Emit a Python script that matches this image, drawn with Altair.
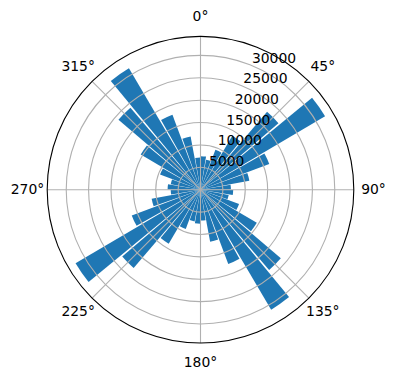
import math
import altair as alt
import pandas as pd

# ---- data ----
directions = list(range(5, 360, 10))  # bar centres, degrees
counts = [7500, 6800, 9500, 14000, 22900, 32300, 16400, 11100, 6800,
          7300, 6400, 9200, 14600, 23600, 31100, 17700, 11800, 6900,
          7600, 7200, 9400, 14000, 23000, 32400, 16400, 11100, 6650,
          7350, 6750, 9650, 15500, 24100, 31500, 17900, 12100, 7200]
ring_values = [5000, 10000, 15000, 20000, 25000, 30000]
ring_labels = ["5000", "10000", "15000", "20000", "25000", "30000"]
angle_ticks = [0, 45, 90, 135, 180, 225, 270, 315]
angle_labels = ["0°", "45°", "90°", "135°", "180°", "225°", "270°", "315°"]

# ---- layout / style ----
RMAX = 34250
R = 153.3
CX, CY = 200.5, 189.7
HALF_W = 4.5
LABEL_R = 173
BLUE = "#1f77b4"
GRID = "#b0b0b0"
FONT = "DejaVu Sans"
FS = 13.9

rscale = alt.Scale(type="linear", domain=[0, RMAX], range=[0, R])
tscale = alt.Scale(type="linear", domain=[0, 360], range=[0, 2 * math.pi])

bars_df = pd.DataFrame({"dir": directions, "count": counts})
rings_df = pd.DataFrame({"r": ring_values, "label": ring_labels})
spokes_df = pd.DataFrame({"a": angle_ticks, "label": angle_labels})

bars = alt.Chart(bars_df).transform_calculate(
    t1=f"datum.dir - {HALF_W}", t2=f"datum.dir + {HALF_W}"
).mark_arc(color=BLUE).encode(
    theta=alt.Theta("t1:Q", scale=tscale, stack=False),
    theta2="t2:Q",
    radius=alt.Radius("count:Q", scale=rscale, stack=False),
    radius2=alt.value(0),
    x=alt.value(CX), y=alt.value(CY),
)

rings = alt.Chart(rings_df).mark_arc(filled=False, stroke=GRID, strokeWidth=1.1).encode(
    theta=alt.value(0), theta2=alt.value(2 * math.pi),
    radius=alt.Radius("r:Q", scale=rscale, stack=False),
    x=alt.value(CX), y=alt.value(CY),
)

spokes = alt.Chart(spokes_df).transform_calculate(
    px=f"{CX} + {R} * sin(datum.a * PI / 180)",
    py=f"{CY} - {R} * cos(datum.a * PI / 180)",
    cx=f"{CX}", cy=f"{CY}",
).mark_rule(color=GRID, strokeWidth=1.1).encode(
    x=alt.X("px:Q", scale=None), y=alt.Y("py:Q", scale=None),
    x2="cx:Q", y2="cy:Q",
)

outer = alt.Chart(pd.DataFrame({"r": [RMAX]})).mark_arc(
    filled=False, stroke="black", strokeWidth=1.1
).encode(
    theta=alt.value(0), theta2=alt.value(2 * math.pi),
    radius=alt.Radius("r:Q", scale=rscale, stack=False),
    x=alt.value(CX), y=alt.value(CY),
)

angle_text = alt.Chart(spokes_df).transform_calculate(
    px=f"{CX} + {LABEL_R} * sin(datum.a * PI / 180)",
    py=f"{CY} - {LABEL_R} * cos(datum.a * PI / 180)",
).mark_text(font=FONT, fontSize=FS, color="black", align="center", baseline="middle").encode(
    x=alt.X("px:Q", scale=None), y=alt.Y("py:Q", scale=None), text="label:N",
)

ring_text = alt.Chart(rings_df).transform_calculate(
    px=f"{CX} + datum.r / {RMAX} * {R} * sin(22.5 * PI / 180)",
    py=f"{CY} - datum.r / {RMAX} * {R} * cos(22.5 * PI / 180)",
).mark_text(font=FONT, fontSize=FS, color="black", align="left", baseline="bottom").encode(
    x=alt.X("px:Q", scale=None), y=alt.Y("py:Q", scale=None), text="label:N",
)

chart = alt.layer(bars, rings, spokes, outer, angle_text, ring_text).properties(
    width=396, height=380, autosize=alt.AutoSizeParams(type="none"), padding=0,
    background="white",
).configure_view(stroke=None)

chart.save("out.html", embed_options={"renderer": "svg", "actions": False})
